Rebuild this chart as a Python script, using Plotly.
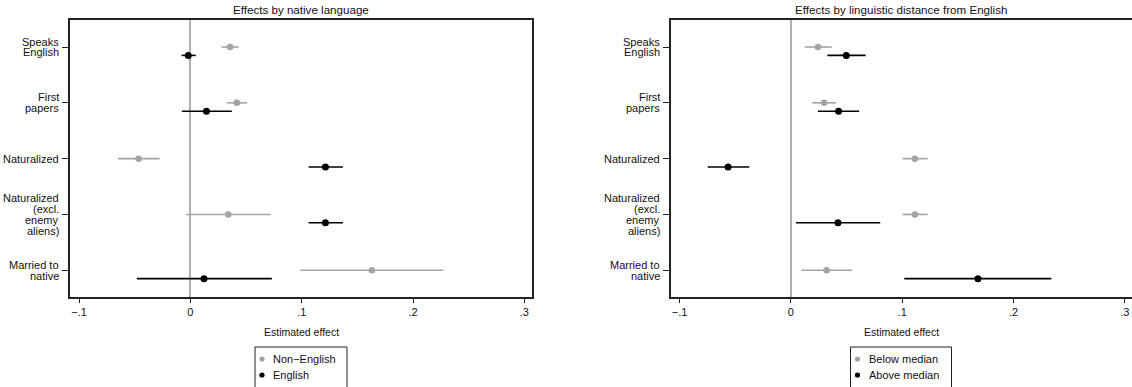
import plotly.graph_objects as go

# ---------------- data ----------------
outcome_lines = [["Speaks", "English"], ["First", "papers"], ["Naturalized"],
                 ["Naturalized", "(excl.", "enemy", "aliens)"], ["Married to", "native"]]

# Panel 1: Effects by native language
nonenglish_est = [0.0356, 0.0417, -0.0465, 0.0340, 0.1630]
nonenglish_lo = [0.0279, 0.0327, -0.0651, -0.0039, 0.0988]
nonenglish_hi = [0.0433, 0.0510, -0.0276, 0.0722, 0.2272]

english_est = [-0.0019, 0.0144, 0.1213, 0.1213, 0.0122]
english_lo = [-0.0080, -0.0077, 0.1062, 0.1062, -0.0481]
english_hi = [0.0048, 0.0372, 0.1370, 0.1370, 0.0732]

# Panel 2: Effects by linguistic distance from English
below_est = [0.0243, 0.0298, 0.1114, 0.1114, 0.0321]
below_lo = [0.0125, 0.0193, 0.1003, 0.1003, 0.0095]
below_hi = [0.0367, 0.0406, 0.1229, 0.1229, 0.0551]

above_est = [0.0498, 0.0429, -0.0564, 0.0423, 0.1681]
above_lo = [0.0328, 0.0243, -0.0747, 0.0046, 0.1019]
above_hi = [0.0672, 0.0613, -0.0374, 0.0803, 0.2340]

xtick_vals = [-0.1, 0, 0.1, 0.2, 0.3]
xtick_text = ["\u2212.1", "0", ".1", ".2", ".3"]

titles = ["Effects by native language", "Effects by linguistic distance from English"]
series_names = [("Non\u2212English", "English"), ("Below median", "Above median")]

# ---------------- style ----------------
FONT = "Liberation Sans, Arial, Helvetica, sans-serif"
GRAY = "#a3a3a3"
BLACK = "#000000"
FRAME = "#222222"
TXT = "#111111"

FW, FH = 1132, 387


def px_x(p):
    return p / FW


def px_y(p):
    return (FH - p) / FH


pos = list(range(1, len(outcome_lines) + 1))
offset = 0.15
line_step = 0.195  # label line spacing in category units

fig = go.Figure()

panels = [
    (nonenglish_est, nonenglish_lo, nonenglish_hi, english_est, english_lo, english_hi),
    (below_est, below_lo, below_hi, above_est, above_lo, above_hi),
]

for k, (g_est, g_lo, g_hi, b_est, b_lo, b_hi) in enumerate(panels):
    xa = "x" if k == 0 else "x2"
    ya = "y" if k == 0 else "y2"
    fig.add_trace(go.Scatter(
        x=g_est, y=pos, mode="markers", name=series_names[k][0],
        xaxis=xa, yaxis=ya, showlegend=False,
        marker=dict(color=GRAY, size=6.5, symbol="circle"),
        error_x=dict(type="data", symmetric=False,
                     array=[h - e for h, e in zip(g_hi, g_est)],
                     arrayminus=[e - l for e, l in zip(g_est, g_lo)],
                     color=GRAY, thickness=1.6, width=0),
    ))
    fig.add_trace(go.Scatter(
        x=b_est, y=[p + offset for p in pos], mode="markers", name=series_names[k][1],
        xaxis=xa, yaxis=ya, showlegend=False,
        marker=dict(color=BLACK, size=7, symbol="circle"),
        error_x=dict(type="data", symmetric=False,
                     array=[h - e for h, e in zip(b_hi, b_est)],
                     arrayminus=[e - l for e, l in zip(b_est, b_lo)],
                     color=BLACK, thickness=1.6, width=0),
    ))

# domains (pixel-derived)
left_dom = [px_x(70), px_x(532)]
right_dom = [px_x(671), 1.0]
y_dom = [px_y(297), px_y(20)]

xaxis_common = dict(
    tickvals=xtick_vals, ticktext=xtick_text, showgrid=False, zeroline=True,
    zerolinecolor="#b0b0b0", zerolinewidth=1.5,
    showline=True, linecolor=FRAME, linewidth=1.5,
    ticks="outside", ticklen=4, tickwidth=1, tickcolor=FRAME,
    tickfont=dict(family=FONT, size=11, color=TXT),
    automargin=False, fixedrange=True,
)
yaxis_common = dict(
    tickvals=pos, showticklabels=False, range=[5.479, 0.516],
    showgrid=False, zeroline=False,
    showline=True, linecolor=FRAME, linewidth=1.5,
    ticks="outside", ticklen=6, tickwidth=1, tickcolor=FRAME,
    automargin=False, fixedrange=True,
)

fig.update_layout(
    width=FW, height=FH,
    margin=dict(l=0, r=0, t=0, b=0),
    paper_bgcolor="white", plot_bgcolor="white",
    font=dict(family=FONT, size=11, color=TXT),
    xaxis=dict(domain=left_dom, range=[-0.1082, 0.3069], mirror=True, anchor="y", **xaxis_common),
    yaxis=dict(domain=y_dom, mirror=True, anchor="x", **yaxis_common),
    xaxis2=dict(domain=right_dom, range=[-0.1077, 0.3065], mirror=True, anchor="y2", **xaxis_common),
    yaxis2=dict(domain=y_dom, mirror=False, anchor="x2", **yaxis_common),
    showlegend=False,
)

annotations = []
shapes = []
centers = [301, 901]
legend_widths = [92, 101]
for k, (cx, t) in enumerate(zip(centers, titles)):
    xdom = "x domain" if k == 0 else "x2 domain"
    yref = "y" if k == 0 else "y2"
    # panel title
    annotations.append(dict(x=px_x(cx), y=px_y(9.5), xref="paper", yref="paper",
                            text=t, showarrow=False, xanchor="center", yanchor="middle",
                            font=dict(family=FONT, size=11.6, color=TXT)))
    # x-axis title
    annotations.append(dict(x=px_x(cx), y=px_y(331.5), xref="paper", yref="paper",
                            text="Estimated effect", showarrow=False, xanchor="center",
                            yanchor="middle", font=dict(family=FONT, size=10.5, color=TXT)))
    # category labels (right aligned, vertically centred on the tick)
    for p, lines in zip(pos, outcome_lines):
        n = len(lines)
        for j, ln in enumerate(lines):
            annotations.append(dict(
                x=0, xref=xdom, y=p + (j - (n - 1) / 2) * line_step, yref=yref,
                text=ln, showarrow=False, xanchor="right", yanchor="middle",
                xshift=-9, font=dict(family=FONT, size=11, color=TXT)))
    # legend box
    lw = legend_widths[k]
    bx0 = cx - lw / 2
    bx1 = cx + lw / 2
    shapes.append(dict(type="rect", xref="paper", yref="paper",
                       x0=px_x(bx0), x1=px_x(bx1), y0=px_y(400), y1=px_y(347),
                       line=dict(color="#222", width=1), fillcolor="white", layer="above"))
    for j, (name, col, yy) in enumerate(zip(series_names[k], [GRAY, BLACK], [359, 375])):
        mx = bx0 + 7
        r = 2.6
        shapes.append(dict(type="circle", xref="paper", yref="paper",
                           x0=px_x(mx - r), x1=px_x(mx + r), y0=px_y(yy + r), y1=px_y(yy - r),
                           line=dict(color=col, width=0), fillcolor=col, layer="above"))
        annotations.append(dict(x=px_x(bx0 + 16), y=px_y(yy), xref="paper", yref="paper",
                                text=name, showarrow=False, xanchor="left", yanchor="middle",
                                font=dict(family=FONT, size=11, color=TXT)))

fig.update_layout(annotations=annotations, shapes=shapes)

fig.write_html("out.html", config={"displayModeBar": False},
               post_script="document.body.style.margin='0px';")
